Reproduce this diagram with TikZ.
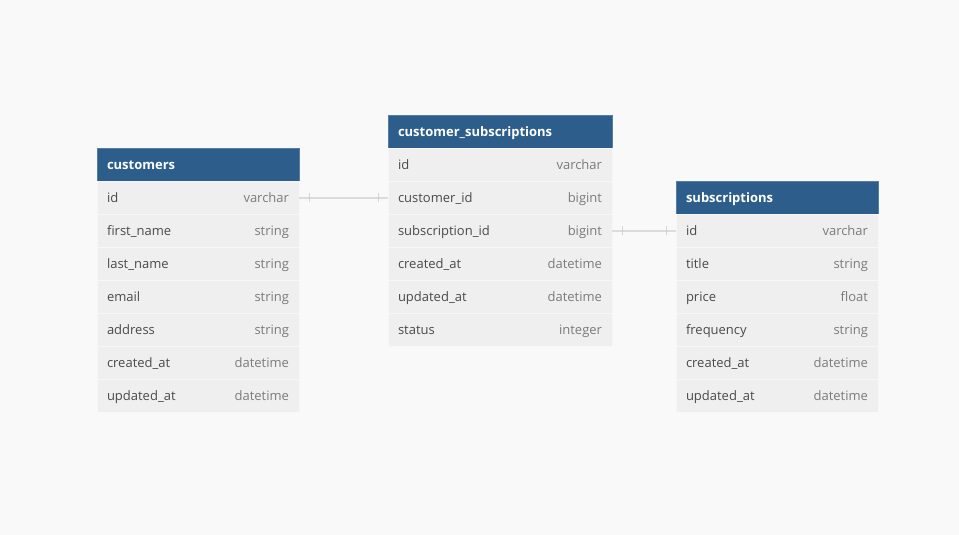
\documentclass[tikz,border=0pt]{standalone}
\usepackage{fontspec}
\setmainfont{Open Sans}
\definecolor{bggray}{HTML}{F9F9F9}
\definecolor{headblue}{HTML}{2C5D8B}
\definecolor{rowgray}{HTML}{EFEFEF}
\definecolor{rowline}{HTML}{F7F7F7}
\definecolor{namegray}{HTML}{4A4A4A}
\definecolor{typegray}{HTML}{7B7B7B}
\definecolor{linkgray}{HTML}{DCDCDC}
\definecolor{tickgray}{HTML}{C4C4C4}

\begin{document}
\begin{tikzpicture}[x=1pt, y=-1pt]

\useasboundingbox[fill=bggray] (0,0) rectangle (959,535);

\begin{scope}[every node/.style={inner sep=0pt, outer sep=0pt},
              head/.style={rectangle, anchor=north west, fill=headblue, draw=headblue!80!white,
                           minimum height=33pt},
              headtext/.style={anchor=west, xshift=10pt, text=white, text height=10.5pt, text depth=1pt,
                               font=\fontsize{13}{15}\selectfont\bfseries},
              row/.style={rectangle, anchor=north west, fill=rowgray, draw=rowline,
                          minimum height=33pt},
              fieldname/.style={anchor=west, xshift=10pt, text=namegray, text height=10.5pt, text depth=1pt,
                                font=\fontsize{13}{15}\selectfont},
              fieldtype/.style={anchor=east, xshift=-10pt, text=typegray, text height=10.5pt, text depth=1pt,
                                font=\fontsize{13}{15}\selectfont}]

    % customers
    \node[head, minimum width=202pt] (cust) at (97,148) {};
    \node[headtext] (custt) at (cust.west) {customers};
    \node[row, minimum width=202pt] (cust1) at (97,181) {};
    \node[fieldname] (cust1n) at (cust1.west) {id};
    \node[fieldtype] (cust1t) at (cust1.east) {varchar};
    \node[row, minimum width=202pt] (cust2) at (97,214) {};
    \node[fieldname] (cust2n) at (cust2.west) {first\_name};
    \node[fieldtype] (cust2t) at (cust2.east) {string};
    \node[row, minimum width=202pt] (cust3) at (97,247) {};
    \node[fieldname] (cust3n) at (cust3.west) {last\_name};
    \node[fieldtype] (cust3t) at (cust3.east) {string};
    \node[row, minimum width=202pt] (cust4) at (97,280) {};
    \node[fieldname] (cust4n) at (cust4.west) {email};
    \node[fieldtype] (cust4t) at (cust4.east) {string};
    \node[row, minimum width=202pt] (cust5) at (97,313) {};
    \node[fieldname] (cust5n) at (cust5.west) {address};
    \node[fieldtype] (cust5t) at (cust5.east) {string};
    \node[row, minimum width=202pt] (cust6) at (97,346) {};
    \node[fieldname] (cust6n) at (cust6.west) {created\_at};
    \node[fieldtype] (cust6t) at (cust6.east) {datetime};
    \node[row, minimum width=202pt] (cust7) at (97,379) {};
    \node[fieldname] (cust7n) at (cust7.west) {updated\_at};
    \node[fieldtype] (cust7t) at (cust7.east) {datetime};

    % customer_subscriptions
    \node[head, minimum width=224pt] (cs) at (388,115) {};
    \node[headtext] (cst) at (cs.west) {customer\_subscriptions};
    \node[row, minimum width=224pt] (cs1) at (388,148) {};
    \node[fieldname] (cs1n) at (cs1.west) {id};
    \node[fieldtype] (cs1t) at (cs1.east) {varchar};
    \node[row, minimum width=224pt] (cs2) at (388,181) {};
    \node[fieldname] (cs2n) at (cs2.west) {customer\_id};
    \node[fieldtype] (cs2t) at (cs2.east) {bigint};
    \node[row, minimum width=224pt] (cs3) at (388,214) {};
    \node[fieldname] (cs3n) at (cs3.west) {subscription\_id};
    \node[fieldtype] (cs3t) at (cs3.east) {bigint};
    \node[row, minimum width=224pt] (cs4) at (388,247) {};
    \node[fieldname] (cs4n) at (cs4.west) {created\_at};
    \node[fieldtype] (cs4t) at (cs4.east) {datetime};
    \node[row, minimum width=224pt] (cs5) at (388,280) {};
    \node[fieldname] (cs5n) at (cs5.west) {updated\_at};
    \node[fieldtype] (cs5t) at (cs5.east) {datetime};
    \node[row, minimum width=224pt] (cs6) at (388,313) {};
    \node[fieldname] (cs6n) at (cs6.west) {status};
    \node[fieldtype] (cs6t) at (cs6.east) {integer};

    % subscriptions
    \node[head, minimum width=202pt] (sub) at (676,181) {};
    \node[headtext] (subt) at (sub.west) {subscriptions};
    \node[row, minimum width=202pt] (sub1) at (676,214) {};
    \node[fieldname] (sub1n) at (sub1.west) {id};
    \node[fieldtype] (sub1t) at (sub1.east) {varchar};
    \node[row, minimum width=202pt] (sub2) at (676,247) {};
    \node[fieldname] (sub2n) at (sub2.west) {title};
    \node[fieldtype] (sub2t) at (sub2.east) {string};
    \node[row, minimum width=202pt] (sub3) at (676,280) {};
    \node[fieldname] (sub3n) at (sub3.west) {price};
    \node[fieldtype] (sub3t) at (sub3.east) {float};
    \node[row, minimum width=202pt] (sub4) at (676,313) {};
    \node[fieldname] (sub4n) at (sub4.west) {frequency};
    \node[fieldtype] (sub4t) at (sub4.east) {string};
    \node[row, minimum width=202pt] (sub5) at (676,346) {};
    \node[fieldname] (sub5n) at (sub5.west) {created\_at};
    \node[fieldtype] (sub5t) at (sub5.east) {datetime};
    \node[row, minimum width=202pt] (sub6) at (676,379) {};
    \node[fieldname] (sub6n) at (sub6.west) {updated\_at};
    \node[fieldtype] (sub6t) at (sub6.east) {datetime};
\end{scope}

\begin{scope}[tick/.style={draw=tickgray, line width=0.8pt, minimum width=0pt, minimum height=9pt,
                           inner sep=0pt, outer sep=0pt},
              every edge/.style={draw=linkgray, line width=2pt}]

    \path [-] (cust1.east) edge
        node[tick, at start, xshift=10pt] (tk1) {}
        node[tick, at end, xshift=-10pt] (tk2) {} (cs2.west);
    \path [-] (cs3.east) edge
        node[tick, at start, xshift=10pt] (tk3) {}
        node[tick, at end, xshift=-10pt] (tk4) {} (sub1.west);
\end{scope}
\end{tikzpicture}
\end{document}
